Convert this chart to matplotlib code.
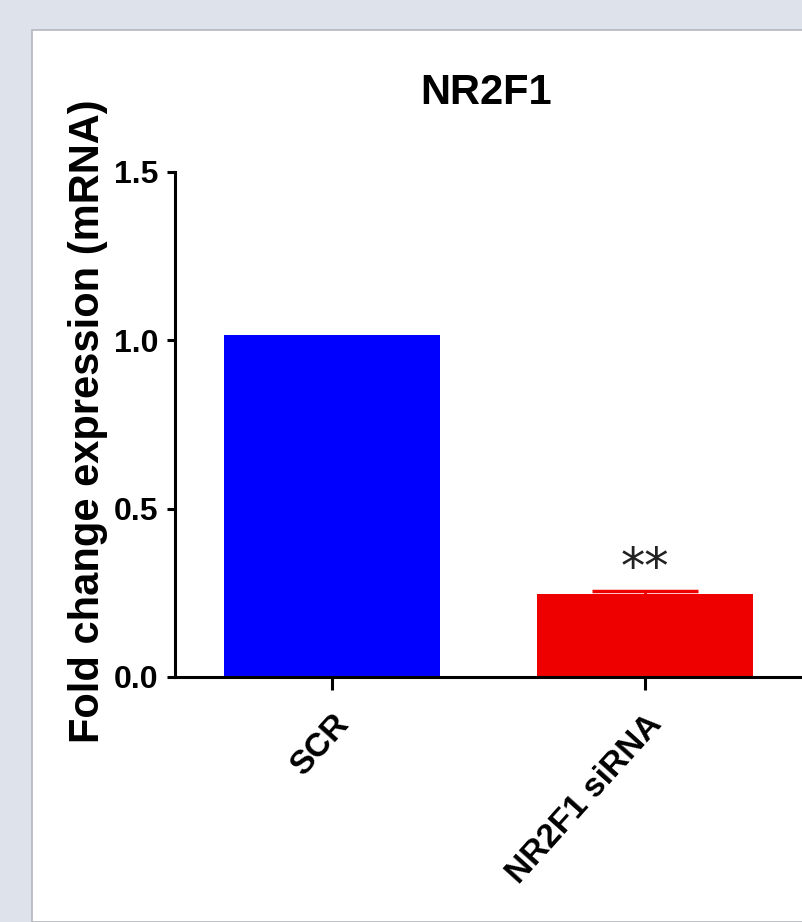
import numpy as np
import matplotlib.pyplot as plt
from matplotlib.patches import Rectangle
from matplotlib.transforms import ScaledTranslation

# Datos
groups = ['SCR', 'NR2F1 siRNA']
fold_change = [1.015, 0.247]
sem = [0.0, 0.007]
bar_colors = ['#0000ff', '#ee0000']
signif = ['', '**']

plt.rcParams['font.family'] = ['Liberation Sans', 'DejaVu Sans']

fig = plt.figure(figsize=(8.03, 9.22), dpi=100)
fig.patch.set_facecolor('#dde2eb')

# Panel blanco del fondo
panel = Rectangle((32 / 803, 0), 1, 1 - 30 / 922, transform=fig.transFigure,
                  facecolor='white', edgecolor='#b4b8c0', linewidth=1.2, zorder=-1)
fig.patches.append(panel)

ax = fig.add_axes([175 / 803, 1 - 677 / 922, 628 / 803, 505 / 922])
ax.patch.set_alpha(0)

x = np.arange(len(groups))
ax.bar(x, fold_change, width=0.69, color=bar_colors, zorder=2)
for xi, v, e, c in zip(x, fold_change, sem, bar_colors):
    if e > 0:
        ax.errorbar(xi, v, yerr=e, color=c, capsize=38, capthick=2.5, elinewidth=2, zorder=2)
for xi, v, e, s in zip(x, fold_change, sem, signif):
    if s:
        ax.text(xi, v + e - 0.005, s, ha='center', va='bottom', fontsize=35,
                family='DejaVu Sans', color='#222222')

ax.set_xlim(-0.502, 1.505)
ax.set_ylim(0, 1.5)
ax.set_yticks([0, 0.5, 1.0, 1.5])
ax.set_yticklabels(['0.0', '0.5', '1.0', '1.5'], fontsize=23, fontweight='bold')
ax.set_xticks(x)
ax.set_xticklabels(groups, fontsize=24, fontweight='bold', rotation=48,
                   ha='right', va='top', rotation_mode='anchor')
offset = ScaledTranslation(1 / 100, 0, fig.dpi_scale_trans)
for lab in ax.get_xticklabels():
    lab.set_transform(lab.get_transform() + offset)

for side in ['top', 'right']:
    ax.spines[side].set_visible(False)
for side in ['left', 'bottom']:
    ax.spines[side].set_linewidth(2.2)
ax.tick_params(axis='y', length=6, width=2.2, pad=6)
ax.tick_params(axis='x', length=9, width=2.2, pad=14)

fig.text(486 / 803, 1 - 93 / 922, 'NR2F1', ha='center', va='center',
         fontsize=30, fontweight='bold')
fig.text(88 / 803, 1 - 421 / 922, 'Fold change expression (mRNA)', rotation=90,
         ha='center', va='center', fontsize=30, fontweight='bold')

plt.savefig('out.png', dpi=100)
